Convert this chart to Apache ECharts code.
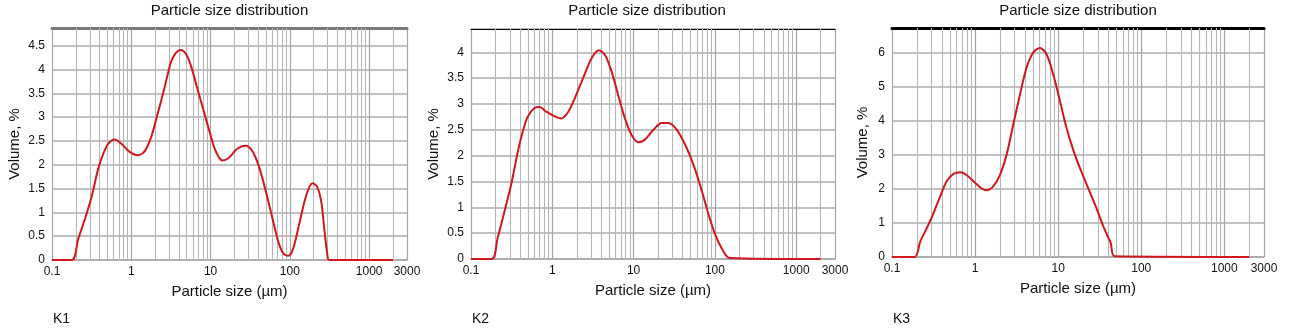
<!DOCTYPE html>
<html>
<head>
<meta charset="utf-8">
<script src="https://cdn.jsdelivr.net/npm/echarts@6/dist/echarts.min.js"></script>
<style>
html,body{margin:0;padding:0;background:#fff;}
#c{width:1291px;height:332px;}
</style>
</head>
<body>
<div id="c"></div>
<script>
// ---- data ----
const sizeK1 = [0.1,0.178,0.215,0.261,0.316,0.383,0.443,0.511,0.619,0.75,0.953,1.21,1.47,1.78,2.15,2.61,3.16,3.65,4.22,4.87,5.62,6.81,8.25,10,11.5,14.0,16.9,21.5,27.4,33.2,40.2,48.7,59.0,71.5,82.5,95.3,110,133,161,192,220,249,274,302,316,2000];
const volK1  = [0,0,0.45,0.87,1.33,1.92,2.23,2.44,2.53,2.44,2.27,2.20,2.28,2.58,3.07,3.60,4.15,4.35,4.41,4.33,4.09,3.60,3.11,2.62,2.30,2.09,2.14,2.33,2.40,2.30,1.99,1.50,0.94,0.38,0.14,0.09,0.24,0.80,1.36,1.61,1.54,1.22,0.59,0.03,0,0];

const sizeK2 = [0.1,0.18,0.213,0.258,0.312,0.377,0.434,0.501,0.605,0.698,0.843,1.07,1.29,1.56,1.89,2.39,3.03,3.73,4.43,5.35,6.47,7.82,9.44,11.4,13.8,17.5,22.2,26.8,34.0,43.1,54.6,69.2,83.6,101,122,152,2000];
const volK2  = [0,0,0.41,0.92,1.44,2.08,2.47,2.76,2.92,2.94,2.85,2.76,2.72,2.84,3.11,3.50,3.88,4.04,3.95,3.63,3.17,2.72,2.40,2.26,2.31,2.50,2.63,2.63,2.50,2.21,1.82,1.31,0.86,0.47,0.20,0.02,0];

const sizeK3 = [0.1,0.187,0.219,0.263,0.316,0.380,0.457,0.550,0.661,0.794,1.0,1.20,1.38,1.66,2.0,2.40,2.88,3.47,4.17,5.01,6.03,7.24,8.71,10.5,12.6,15.1,18.2,22.9,28.8,36.3,42.9,48,2000];
const volK3  = [0,0,0.46,0.85,1.29,1.78,2.23,2.44,2.49,2.40,2.18,2.01,1.96,2.08,2.42,3.01,3.89,4.77,5.56,6.0,6.13,5.95,5.36,4.58,3.79,3.16,2.62,2.03,1.44,0.80,0.41,0.02,0];

const sampleNames = ['K1','K2','K3'];
const chartTitle = 'Particle size distribution';
const xName = 'Particle size (\u00b5m)';
const yName = 'Volume, %';
const xMin = 0.1, xMax = 3000;
const yMaxes = [4.87, 4.45, 6.72];
const yIntervals = [0.5, 0.5, 1];
const minorGridSizes = [0.2,0.3,0.4,0.5,0.6,0.7,0.8,0.9,2,3,4,5,6,7,8,9,20,30,40,50,60,70,80,90,200,300,400,500,600,700,800,900,2000];

// ---- layout ----
const FONT = '"Liberation Sans", Arial, Helvetica, sans-serif';
const grids = [
  {left: 52, top: 28, width: 355, height: 232},
  {left: 471, top: 29, width: 364, height: 230},
  {left: 892, top: 28, width: 372, height: 229}
];
const topBorders = [
  {color: '#7a7a7a', width: 3},
  {color: '#000000', width: 1},
  {color: '#000000', width: 3}
];
const yNameGaps = [30, 30, 22];
const seriesData = [
  sizeK1.map((s,i)=>[s, volK1[i]]),
  sizeK2.map((s,i)=>[s, volK2[i]]),
  sizeK3.map((s,i)=>[s, volK3[i]])
];

const fmt = v => String(+Number(v).toPrecision(6));

const option = {
  animation: false,
  grid: grids.map(g => Object.assign({containLabel: false, outerBoundsMode: 'none'}, g)),
  xAxis: [],
  yAxis: [],
  series: [],
  graphic: []
};

grids.forEach((g, i) => {
  option.xAxis.push({
    type: 'log', logBase: 10, gridIndex: i, min: xMin, max: xMax,
    name: xName, nameLocation: 'middle', nameGap: 24,
    nameTextStyle: {fontFamily: FONT, fontSize: 15, color: '#111'},
    axisLine: {show: true, lineStyle: {color: '#a8a8a8', width: 1.5}},
    axisTick: {show: false},
    axisLabel: {fontFamily: FONT, fontSize: 12, color: '#111', margin: 6, formatter: fmt, showMinLabel: true, showMaxLabel: true},
    splitLine: {show: true, lineStyle: {color: '#a4a4a4', width: 1.2}}
  });
  // top border
  option.xAxis.push({
    type: 'value', gridIndex: i, position: 'top', min: 0, max: 1,
    axisLine: {show: true, onZero: false, lineStyle: {color: topBorders[i].color, width: topBorders[i].width}},
    axisTick: {show: false}, axisLabel: {show: false}, splitLine: {show: false}
  });
  option.yAxis.push({
    type: 'value', gridIndex: i, min: 0, max: yMaxes[i], interval: yIntervals[i],
    name: yName, nameLocation: 'middle', nameGap: yNameGaps[i],
    nameTextStyle: {fontFamily: FONT, fontSize: 15, color: '#111'},
    axisLine: {show: false}, axisTick: {show: false},
    axisLabel: {fontFamily: FONT, fontSize: 12, color: '#111', margin: 7, showMaxLabel: false},
    splitLine: {show: true, lineStyle: {color: '#acacac', width: 1.5}}
  });
  // minor vertical grid lines
  option.series.push({
    type: 'line', xAxisIndex: 2*i, yAxisIndex: i, data: [], silent: true,
    markLine: {
      silent: true, z: 1, symbol: ['none','none'], animation: false,
      label: {show: false},
      lineStyle: {color: '#b6b6b6', width: 1.1, type: 'solid'},
      emphasis: {disabled: true},
      data: minorGridSizes.map(v => ({xAxis: v}))
    }
  });
  option.series.push({
    type: 'line', xAxisIndex: 2*i, yAxisIndex: i, z: 3,
    data: seriesData[i], showSymbol: false, smooth: 0.3,
    lineStyle: {color: '#d0181e', width: 2},
    itemStyle: {color: '#d0181e'}
  });
  const cx = g.left + g.width / 2;
  option.graphic.push({
    type: 'text', x: (i === 1 ? cx - 6 : cx), y: 11,
    style: {text: chartTitle, font: '15px ' + FONT, fill: '#111', align: 'center', verticalAlign: 'middle'}
  });
  option.graphic.push({
    type: 'text', x: g.left + 1, y: 319,
    style: {text: sampleNames[i], font: '14px ' + FONT, fill: '#111', align: 'left', verticalAlign: 'middle'}
  });
});

const chart = echarts.init(document.getElementById('c'), null, {renderer: 'canvas'});
chart.setOption(option);
</script>
</body>
</html>
